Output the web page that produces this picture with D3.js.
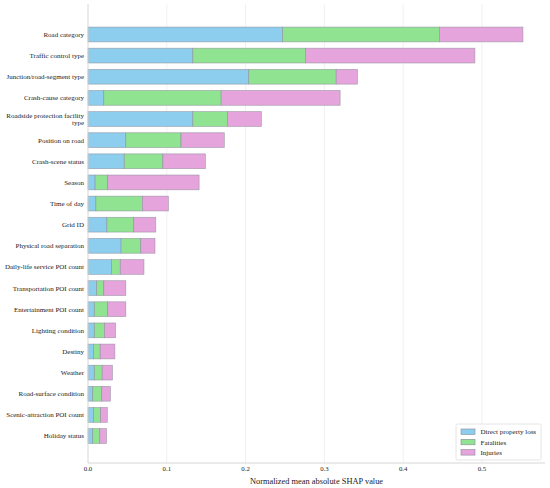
<!DOCTYPE html>
<html>
<head>
<meta charset="utf-8">
<script src="https://cdn.jsdelivr.net/npm/d3@7"></script>
<style>
  body { margin: 0; background: #fff; }
  svg text { font-family: "Times New Roman", "Liberation Serif", "DejaVu Serif", serif; fill: #222; }
</style>
</head>
<body>
<div id="chart"></div>
<script>
// feature names, top to bottom
const features = [
    "Road category", "Traffic control type", "Junction/road-segment type",
    "Crash-cause category", "Roadside protection facility type", "Position on road",
    "Crash-scene status", "Season", "Time of day", "Grid ID",
    "Physical road separation", "Daily-life service POI count", "Transportation POI count",
    "Entertainment POI count", "Lighting condition", "Destiny", "Weather",
    "Road-surface condition", "Scenic-attraction POI count", "Holiday status"
];

// normalized mean |SHAP| per outcome
const propertyLoss = [0.247, 0.133, 0.204, 0.020, 0.133, 0.048, 0.046, 0.009, 0.010, 0.024,
    0.042, 0.030, 0.011, 0.008, 0.008, 0.007, 0.008, 0.006, 0.007, 0.006];
const fatalities = [0.199, 0.143, 0.111, 0.149, 0.044, 0.070, 0.049, 0.016, 0.059, 0.034,
    0.025, 0.011, 0.009, 0.017, 0.013, 0.0085, 0.010, 0.0114, 0.009, 0.009];
const injuries = [0.106, 0.215, 0.027, 0.151, 0.043, 0.055, 0.054, 0.116, 0.033, 0.028,
    0.018, 0.030, 0.028, 0.023, 0.014, 0.0186, 0.013, 0.011, 0.0085, 0.0085];

const seriesNames = ["Direct property loss", "Fatalities", "Injuries"];
const seriesColors = ["#8dcdee", "#8fe391", "#e6a4dc"];
const xTicks = [0, 0.1, 0.2, 0.3, 0.4, 0.5];

const width = 550, height = 488;
const svg = d3.select("#chart").append("svg")
    .attr("width", width)
    .attr("height", height)
    .attr("font-family", "'Times New Roman', 'Liberation Serif', serif");

const plotLeft = 88, plotRight = 545, plotTop = 4, plotBottom = 463;

const x = d3.scaleLinear().domain([0, 0.58]).range([plotLeft, plotRight]);
const y = d3.scaleBand().domain(features).range([23.9, 446.6]).paddingInner(0.3).paddingOuter(0.15);

// stacked table
const table = features.map((f, i) => ({
    feature: f,
    "Direct property loss": propertyLoss[i],
    "Fatalities": fatalities[i],
    "Injuries": injuries[i]
}));
const stacked = d3.stack().keys(seriesNames)(table);

// grid lines
svg.append("g")
    .selectAll("line")
    .data(xTicks.slice(1))
    .enter().append("line")
    .attr("x1", d => x(d)).attr("x2", d => x(d))
    .attr("y1", plotTop).attr("y2", plotBottom)
    .attr("stroke", "#ececec")
    .attr("stroke-width", 0.8);

// bars
svg.append("g")
    .selectAll("g")
    .data(stacked)
    .enter().append("g")
    .attr("fill", (d, i) => seriesColors[i])
    .selectAll("rect")
    .data(d => d)
    .enter().append("rect")
    .attr("x", d => x(d[0]))
    .attr("y", d => y(d.data.feature))
    .attr("width", d => x(d[1]) - x(d[0]))
    .attr("height", y.bandwidth())
    .attr("stroke", "#8a8a9a")
    .attr("stroke-opacity", 0.7)
    .attr("stroke-width", 0.7);

// spines
svg.append("line")
    .attr("x1", plotLeft).attr("x2", plotLeft)
    .attr("y1", plotTop).attr("y2", plotBottom)
    .attr("stroke", "#d6d6d6").attr("stroke-width", 1);
svg.append("line")
    .attr("x1", plotLeft).attr("x2", plotRight)
    .attr("y1", plotBottom).attr("y2", plotBottom)
    .attr("stroke", "#d6d6d6").attr("stroke-width", 1);

// y labels
svg.append("g")
    .selectAll("text")
    .data(features)
    .enter().append("text")
    .each(function (d) {
        const t = d3.select(this)
            .attr("x", plotLeft - 4)
            .attr("text-anchor", "end")
            .attr("font-size", 7);
        const cy = y(d) + y.bandwidth() / 2;
        if (d === "Roadside protection facility type") {
            t.append("tspan").attr("x", plotLeft - 4).attr("y", cy - 3.8).attr("dy", "0.35em").text("Roadside protection facility");
            t.append("tspan").attr("x", plotLeft - 4).attr("y", cy + 3.8).attr("dy", "0.35em").text("type");
        } else {
            t.attr("y", cy).attr("dy", "0.35em").text(d);
        }
    });

// x tick labels
svg.append("g")
    .selectAll("text")
    .data(xTicks)
    .enter().append("text")
    .attr("x", d => x(d))
    .attr("y", 469)
    .attr("dy", "0.35em")
    .attr("text-anchor", "middle")
    .attr("font-size", 6.8)
    .text(d3.format(".1f"));

svg.append("text")
    .attr("x", (plotLeft + plotRight) / 2)
    .attr("y", 481)
    .attr("dy", "0.35em")
    .attr("text-anchor", "middle")
    .attr("font-size", 8.4)
    .text("Normalized mean absolute SHAP value");

// legend
const legend = svg.append("g").attr("transform", "translate(456,424)");
legend.append("rect")
    .attr("width", 85).attr("height", 36)
    .attr("fill", "#fff").attr("fill-opacity", 0.8)
    .attr("stroke", "#dddddd").attr("stroke-width", 0.8).attr("rx", 1.5);
seriesNames.forEach((name, i) => {
    legend.append("rect")
        .attr("x", 5).attr("y", 5 + i * 10.3)
        .attr("width", 14).attr("height", 5.5)
        .attr("fill", seriesColors[i])
        .attr("stroke", "#8a8a9a").attr("stroke-width", 0.6);
    legend.append("text")
        .attr("x", 24.5).attr("y", 8 + i * 10.3)
        .attr("dy", "0.35em")
        .attr("font-size", 7)
        .text(name);
});
</script>
</body>
</html>
